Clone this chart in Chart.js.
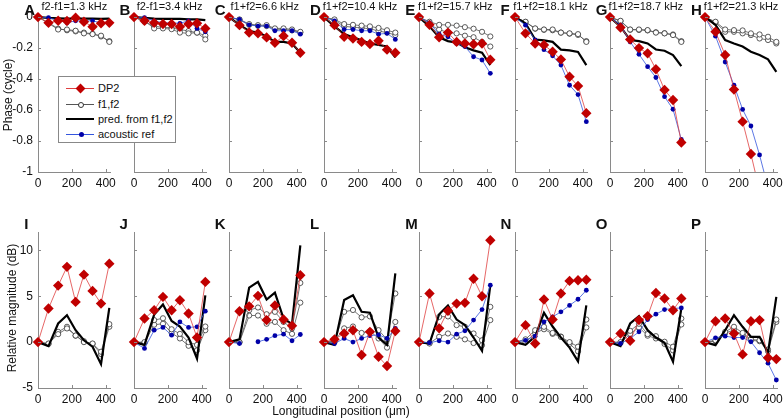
<!DOCTYPE html>
<html>
<head>
<meta charset="utf-8">
<script src="https://cdn.jsdelivr.net/npm/chart.js@4/dist/chart.umd.min.js"></script>
<style>
  body { margin: 0; background: #fff; }
  #wrap { position: relative; width: 784px; height: 419px; overflow: hidden; font-family: "Liberation Sans", Arial, sans-serif; color: #111; }
  canvas { position: absolute; }
  .lbl { position: absolute; white-space: nowrap; }
  .letter { font-weight: bold; font-size: 15px; }
  .ttl { font-size: 11px; transform: translateX(-50%); }
  .ytitle { font-size: 12px; transform: translate(-50%, -50%) rotate(-90deg); }
  #legend { position: absolute; left: 58px; top: 76px; width: 116px; height: 65px; border: 1px solid #888; background: #fff; font-size: 11px; }
  .row { position: absolute; left: 0; height: 14px; width: 116px; }
  .row .ln { position: absolute; left: 7px; width: 28px; top: 7px; }
  .row .mk { position: absolute; }
  .row .tx { position: absolute; left: 39px; top: 0px; line-height: 14px; white-space: nowrap; }
</style>
</head>
<body>
<div id="wrap"></div>
<script>
// longitudinal positions (um) shared by every panel
const xPos = [0, 62, 119, 171, 222, 271, 322, 372, 421];
const xTicks = [0, 200, 400];
const phaseTicks = [0, -0.2, -0.4, -0.6, -0.8, -1];
const magTicks = [-5, 0, 5, 10];

const letters = ['A','B','C','D','E','F','G','H','I','J','K','L','M','N','O','P'];
const titles = ['f2-f1=1.3 kHz', 'f2-f1=3.4 kHz', 'f1+f2=6.6 kHz', 'f1+f2=10.4 kHz',
                'f1+f2=15.7 kHz', 'f1+f2=18.1 kHz', 'f1+f2=18.7 kHz', 'f1+f2=21.3 kHz'];

// phase (cycle), panels A-H
const phaseDP2 = [
  [0,-0.037,-0.024,-0.025,-0.004,-0.03,-0.062,-0.04,-0.037],
  [0,-0.024,-0.037,-0.045,-0.045,-0.062,-0.045,-0.04,-0.073],
  [0,-0.052,-0.099,-0.105,-0.131,-0.166,-0.122,-0.166,-0.23],
  [0,-0.052,-0.127,-0.138,-0.16,-0.174,-0.153,-0.21,-0.23],
  [0,-0.05,-0.13,-0.1,-0.16,-0.17,-0.175,-0.17,-0.275],
  [0,-0.105,-0.17,-0.18,-0.224,-0.273,-0.385,-0.445,-0.62],
  [0,-0.067,-0.144,-0.2,-0.234,-0.337,-0.47,-0.535,-0.81],
  [0,-0.095,-0.245,-0.467,-0.675,-0.884,-1.12,-1.35,-1.6]
];
const phaseF1 = [
  [0,-0.04,-0.08,-0.08,-0.088,-0.105,-0.11,-0.12,-0.16],
  [0,-0.024,-0.073,-0.073,-0.078,-0.1,-0.105,-0.1,-0.144],
  [0,-0.015,-0.045,-0.052,-0.052,-0.073,-0.073,-0.08,-0.095],
  [0,-0.015,-0.045,-0.05,-0.055,-0.06,-0.07,-0.085,-0.1],
  [0,-0.03,-0.05,-0.05,-0.055,-0.065,-0.075,-0.095,-0.125],
  [0,-0.03,-0.073,-0.08,-0.08,-0.1,-0.105,-0.11,-0.16],
  [0,-0.024,-0.08,-0.08,-0.084,-0.1,-0.105,-0.116,-0.16],
  [0,-0.03,-0.08,-0.084,-0.086,-0.105,-0.112,-0.127,-0.16]
];
const phaseF2 = [
  [0,-0.035,-0.075,-0.085,-0.092,-0.1,-0.108,-0.125,-0.155],
  [0,-0.03,-0.06,-0.065,-0.07,-0.08,-0.09,-0.1,-0.12],
  [0,-0.018,-0.05,-0.056,-0.058,-0.078,-0.08,-0.086,-0.1],
  [0,-0.02,-0.06,-0.065,-0.07,-0.075,-0.09,-0.1,-0.116],
  [0,-0.05,-0.08,-0.1,-0.105,-0.12,-0.13,-0.16,-0.19],
  [0,-0.032,-0.075,-0.082,-0.085,-0.1,-0.107,-0.115,-0.155],
  [0,-0.026,-0.082,-0.083,-0.086,-0.098,-0.104,-0.112,-0.155],
  [0,-0.035,-0.095,-0.095,-0.105,-0.116,-0.138,-0.148,-0.17]
];
const phasePred = [
  [0,-0.005,-0.008,-0.01,-0.01,-0.01,-0.01,-0.012,-0.01],
  [0,-0.005,-0.01,-0.012,-0.012,-0.012,-0.015,-0.015,-0.02],
  [0,-0.05,-0.09,-0.1,-0.125,-0.16,-0.16,-0.17,-0.23],
  [0,-0.06,-0.11,-0.13,-0.15,-0.17,-0.18,-0.19,-0.26],
  [0,-0.06,-0.13,-0.155,-0.165,-0.195,-0.215,-0.23,-0.31],
  [0,-0.04,-0.145,-0.15,-0.16,-0.21,-0.215,-0.225,-0.31],
  [0,-0.062,-0.148,-0.155,-0.17,-0.209,-0.217,-0.245,-0.316],
  [0,-0.05,-0.148,-0.17,-0.19,-0.224,-0.245,-0.273,-0.353]
];
const phaseRef = [
  [0,-0.004,-0.02,-0.037,-0.024,-0.024,-0.024,-0.037,-0.037],
  [0,-0.004,-0.024,-0.037,-0.037,-0.04,-0.024,-0.073,-0.095],
  [0,-0.015,-0.05,-0.058,-0.058,-0.088,-0.088,-0.088,-0.11],
  [0,-0.024,-0.08,-0.08,-0.088,-0.088,-0.11,-0.105,-0.144],
  [0,-0.037,-0.11,-0.127,-0.17,-0.19,-0.256,-0.277,-0.363],
  [0,-0.052,-0.148,-0.21,-0.25,-0.31,-0.44,-0.5,-0.675],
  [0,-0.052,-0.16,-0.24,-0.32,-0.39,-0.514,-0.595,-0.79],
  [0,-0.123,-0.29,-0.44,-0.596,-0.703,-0.89,-1.1,-1.3]
];

// relative magnitude (dB), panels I-P
const magDP2 = [
  [0,3.66,6.16,8.2,4.38,7.35,5.58,4.2,8.55],
  [0,2.57,3.48,4.93,3.48,4.57,3.12,0.5,6.56],
  [0,3.37,3.9,5.04,2.4,4.0,2.46,1.78,7.28],
  [0,0.3,0.94,1.3,-1.4,1.12,-1.6,-2.6,1.2],
  [0,5.3,1.5,3.4,4.2,4.28,6.9,5.0,11.1],
  [0,1.85,-0.15,4.64,2.46,5.3,6.67,6.74,6.8],
  [0,0.94,0.15,2.4,2.83,5.36,4.75,3.48,4.75],
  [0,2.28,2.57,0.94,-1.34,2.28,2.4,-1.7,-1.85]
];
const magF1 = [
  [0,-0.15,0.87,1.49,0.72,0,-0.15,-1.05,1.96],
  [0,0,2.4,2.6,1.4,0.9,0,-0.3,1.7],
  [0,0,3.48,3.77,3.04,3.3,2.2,1.49,6.45],
  [0,0,3.3,3.5,2.7,2.8,1.3,0.3,5.3],
  [0,-0.15,2.75,2.8,1.85,1.67,0.94,0.2,3.84],
  [0,0.3,1.3,1.67,1.0,0.58,0,-0.5,2.46],
  [0,0,1.23,2.0,0.87,0.65,0.04,-0.5,2.57],
  [0,0.2,1.12,1.67,1.0,0.3,0.2,-0.8,2.46]
];
const magF2 = [
  [0,-0.2,1.12,1.67,0.7,0.1,-0.2,-1.3,1.67],
  [0,-0.1,1.9,2.0,1.0,0.4,-0.4,-0.9,1.3],
  [0,0,2.9,2.9,2.0,2.2,1.3,0.9,4.3],
  [0,0.1,1.5,1.7,1.0,1.2,0.4,-0.6,2.2],
  [0,-0.1,0.58,0.94,0.58,0.3,-0.1,-0.33,2.4],
  [0,0,1.0,1.4,0.9,0.6,-0.2,-1.0,1.6],
  [0,-0.1,0.9,1.6,0.7,0.4,-0.2,-0.9,1.92],
  [0,0.1,1.0,1.3,0.8,0.2,0.1,-1.0,2.2]
];
const magPred = [
  [0,-0.43,2.03,2.93,1.3,0.2,-0.5,-2.4,3.73],
  [0,-0.3,3.0,4.1,2.3,1.7,0.5,-1.8,5.1],
  [0,0.3,5.94,6.56,4.64,5.4,2.57,1.96,10.54],
  [0,-0.3,4.6,5.1,3.3,3.2,0.5,-0.3,7.5],
  [0,-0.15,3.04,4.0,2.46,1.85,0.5,-0.94,6.2],
  [0,-0.3,0.6,3.2,1.7,0.5,-0.6,-2.1,4.0],
  [0,-0.43,2.03,2.83,1.3,0.5,-0.07,-2.14,3.66],
  [0,-0.33,1.3,2.93,1.67,0.58,0.58,-1.16,4.93]
];
const magRef = [
  [null,null,null,null,null,null,null,null,null],
  [0,-0.69,1.3,1.6,0.76,2.2,1.6,1.67,3.37],
  [0,-0.15,null,0.04,0.3,0.7,0.87,0.15,0.83],
  [0,-0.15,0.4,0,0.4,0.7,0.8,0.4,1.5],
  [0,-0.07,0.15,0,0.87,1.23,2.4,3.55,6.2],
  [0,0.2,0.65,2.2,2.75,3.3,4.0,4.67,5.65],
  [0,-0.15,0.4,1.12,2.46,3.04,3.55,3.66,3.73],
  [0,0.47,0.65,0.5,0.5,0.04,-1.16,-2.3,-4.13]
];

const RED = '#c00000', BLUE = '#0000a8';
const colX = i => 38.3 + 95.25 * i;
const PW = 72, PADL = 38, PADT = 14, PADR = 14, PADB = 26;
const rows = [
  { top: 14, h: 158, min: -1, max: 0.02, ticks: phaseTicks,
    dp2: phaseDP2, f1: phaseF1, f2: phaseF2, pred: phasePred, ref: phaseRef },
  { top: 232, h: 156, min: -5, max: 12, ticks: magTicks,
    dp2: magDP2, f1: magF1, f2: magF2, pred: magPred, ref: magRef }
];

const wrap = document.getElementById('wrap');
const pts = ys => xPos.map((x, k) => ({ x, y: ys[k] }));
const clip = { left: 8, top: 8, right: 8, bottom: 0 };
const font = { family: '"Liberation Sans", Arial, sans-serif', size: 12 };

// short inward tick marks, like the original figure
const inwardTicks = {
  id: 'inwardTicks',
  afterDraw(chart) {
    const { ctx, chartArea: a, scales } = chart;
    ctx.save();
    ctx.strokeStyle = '#8a8a8a';
    ctx.lineWidth = 1;
    ctx.beginPath();
    scales.y.ticks.forEach(t => {
      const y = Math.round(scales.y.getPixelForValue(t.value)) + 0.5;
      ctx.moveTo(a.left, y); ctx.lineTo(a.left + 3, y);
    });
    scales.x.ticks.forEach(t => {
      const x = Math.round(scales.x.getPixelForValue(t.value)) + 0.5;
      ctx.moveTo(x, a.bottom); ctx.lineTo(x, a.bottom - 3);
    });
    ctx.stroke();
    ctx.restore();
  }
};

function addLabel(cls, text, left, top) {
  const d = document.createElement('div');
  d.className = 'lbl ' + cls;
  d.textContent = text;
  d.style.left = left + 'px';
  d.style.top = top + 'px';
  wrap.appendChild(d);
  return d;
}

rows.forEach((row, r) => {
  for (let i = 0; i < 8; i++) {
    const cv = document.createElement('canvas');
    const w = PADL + PW + PADR, h = PADT + row.h + PADB;
    cv.width = w; cv.height = h;
    cv.style.left = (colX(i) - PADL) + 'px';
    cv.style.top = (row.top - PADT) + 'px';
    wrap.appendChild(cv);

    const open = (ys) => ({
      data: pts(ys), borderColor: '#555', borderWidth: 0.8,
      pointRadius: 2.6, pointBackgroundColor: '#fff', pointBorderColor: '#333',
      pointBorderWidth: 0.8, clip
    });
    new Chart(cv, {
      type: 'line',
      data: {
        datasets: [
          { data: pts(row.dp2[i]), borderColor: '#e04040', borderWidth: 0.8,
            pointStyle: 'rectRot', pointRadius: 5.2, pointBackgroundColor: RED,
            pointBorderColor: RED, pointBorderWidth: 0, clip },
          { data: pts(row.ref[i]), borderColor: '#3355dd', borderWidth: 0.8,
            pointRadius: 2.4, pointBackgroundColor: BLUE, pointBorderColor: BLUE,
            pointBorderWidth: 0, clip },
          { data: pts(row.pred[i]), borderColor: '#000', borderWidth: 2.2,
            pointRadius: 0, clip },
          open(row.f1[i]),
          open(row.f2[i])
        ]
      },
      plugins: [inwardTicks],
      options: {
        responsive: false, animation: false, devicePixelRatio: 1,
        layout: { padding: { left: 0, top: PADT, right: PADR, bottom: 0 } },
        plugins: { legend: { display: false }, tooltip: { enabled: false } },
        scales: {
          x: {
            type: 'linear', min: 0, max: 425,
            afterBuildTicks: s => { s.ticks = xTicks.map(v => ({ value: v })); },
            afterFit: s => { s.height = PADB; },
            grid: { drawOnChartArea: false, drawTicks: false },
            border: { color: '#8a8a8a', width: 1 },
            ticks: { color: '#111', font, padding: 4, maxRotation: 0 }
          },
          y: {
            type: 'linear', min: row.min, max: row.max,
            afterBuildTicks: s => { s.ticks = row.ticks.map(v => ({ value: v })); },
            afterFit: s => { s.width = PADL; },
            grid: { drawOnChartArea: false, drawTicks: false },
            border: { color: '#8a8a8a', width: 1 },
            ticks: { display: i === 0, color: '#111', font, padding: 5,
                     callback: v => String(v) }
          }
        }
      }
    });

    // panel letter and title
    addLabel('letter', letters[r * 8 + i], colX(i) - 14, row.top - 13 + (r ? -4 : 0));
    if (r === 0) addLabel('ttl', titles[i], colX(i) + PW / 2, 0);
  }
});

addLabel('ytitle', 'Phase (cycle)', 8, 95);
addLabel('ytitle', 'Relative magnitude (dB)', 12, 308);
const xt = addLabel('', 'Longitudinal position (\u03bcm)', 341, 404);
xt.style.fontSize = '12px';
xt.style.transform = 'translateX(-50%)';

// legend box inside panel A
const legend = document.createElement('div');
legend.id = 'legend';
const entries = [
  { label: 'DP2', line: '1px solid #e04040', mark: 'dp2' },
  { label: 'f1,f2', line: '1px solid #555', mark: 'open' },
  { label: 'pred. from f1,f2', line: '2.5px solid #000', mark: null },
  { label: 'acoustic ref', line: '1px solid #3355dd', mark: 'ref' }
];
const rowTops = [4, 20, 35, 50];
entries.forEach((e, k) => {
  const rw = document.createElement('div');
  rw.className = 'row';
  rw.style.top = rowTops[k] + 'px';
  const ln = document.createElement('div');
  ln.className = 'ln';
  ln.style.borderTop = e.line;
  ln.style.marginTop = e.mark === null ? '-1px' : '0';
  rw.appendChild(ln);
  if (e.mark) {
    const mk = document.createElement('div');
    mk.className = 'mk';
    if (e.mark === 'dp2') {
      Object.assign(mk.style, { left: '18px', top: '3.5px', width: '7px', height: '7px',
        background: RED, transform: 'rotate(45deg)' });
    } else if (e.mark === 'open') {
      Object.assign(mk.style, { left: '18.5px', top: '4.5px', width: '4px', height: '4px',
        background: '#fff', border: '1px solid #333', borderRadius: '50%' });
    } else {
      Object.assign(mk.style, { left: '19.5px', top: '5px', width: '5px', height: '5px',
        background: BLUE, borderRadius: '50%' });
    }
    rw.appendChild(mk);
  }
  const tx = document.createElement('div');
  tx.className = 'tx';
  tx.textContent = e.label;
  rw.appendChild(tx);
  legend.appendChild(rw);
});
wrap.appendChild(legend);
</script>
</body>
</html>
